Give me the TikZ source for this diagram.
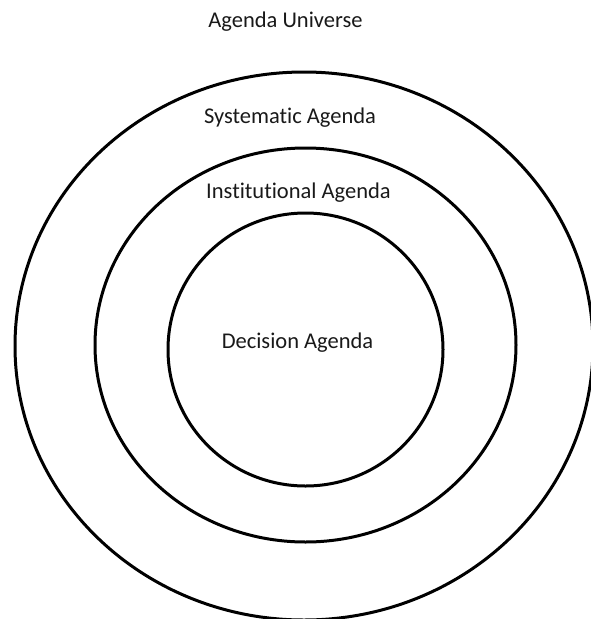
\documentclass[tikz,border=0pt]{standalone}
\usepackage{fontspec}
\setmainfont{Carlito}[Ligatures=NoCommon]
\usepackage{tikz}
\usetikzlibrary{positioning, shapes.geometric}

\begin{document}
\begin{tikzpicture}
    [x=1pt, y=-1pt, outer sep = 0pt,
    ring/.style={ellipse, draw=black, line width=3pt, inner sep=0pt},
    tag/.style={inner sep=0pt, text=black!90,
      font=\fontsize{22.5}{26}\selectfont}]

    \useasboundingbox (0,0) rectangle (590,619);

    % the three agendas, one inside the other
    \node [ring, minimum width=578, minimum height=548] (systematic) at (304,346) {};
    \node [ring, minimum width=421, minimum height=394] (institutional) at (305.5,345) {};
    \node [ring, minimum width=275, minimum height=273] (decision) at (305.5,349.5) {};

    \node [tag] (universe_lbl) at (285.5,22) {Agenda Universe};
    \node [tag] (systematic_lbl) at (290,118) {Systematic Agenda};
    \node [tag] (institutional_lbl) at (298.5,193) {Institutional Agenda};
    \node [tag] (decision_lbl) at (297.5,343) {Decision Agenda};
  \end{tikzpicture}
\end{document}
